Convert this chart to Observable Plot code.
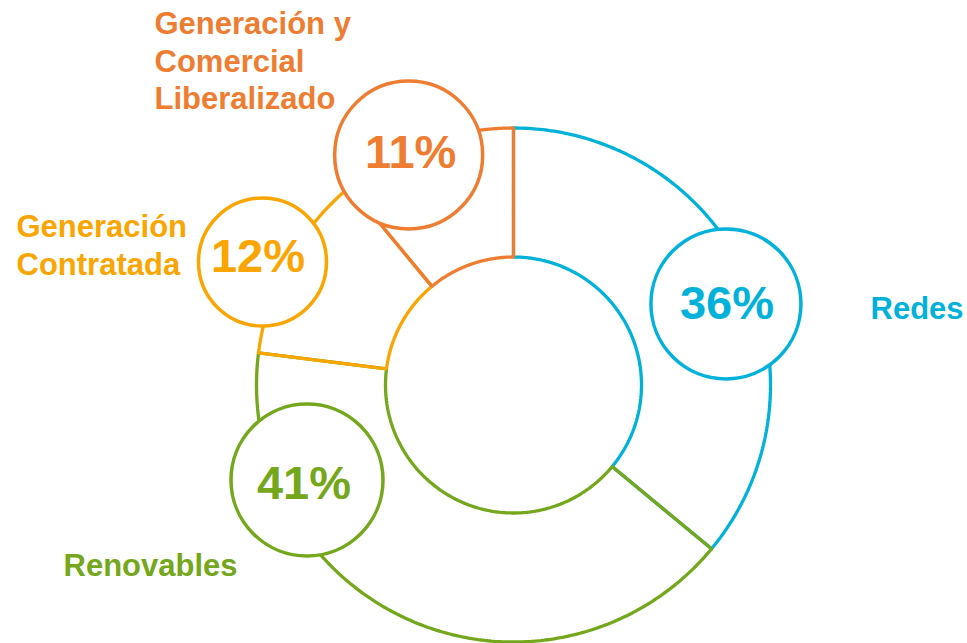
<!DOCTYPE html>
<html><head><meta charset="utf-8">
<script src="https://cdn.jsdelivr.net/npm/d3@7"></script>
<script src="https://cdn.jsdelivr.net/npm/@observablehq/plot@0.6"></script>
<style>html,body{margin:0;padding:0;background:#fff}</style>
</head><body><div id="chart"></div>
<script>
// ---- data ----
const segments = ["Redes", "Renovables", "Generación Contratada", "Generación y Comercial Liberalizado"];
const shares = [36, 41, 12, 11];
const shareLabels = ["36%", "41%", "12%", "11%"];
const nameLabels = ["Redes", "Renovables", "Generación\nContratada", "Generación y\nComercial\nLiberalizado"];

// ---- layout / style ----
const W = 967, H = 643;
const colors = ["#00B2DA", "#74A71C", "#FAA500", "#EE7D32"];
const cx = 513, cy = 384.5, rInner = 128, rOuter = 257;
// bubbles: polar position (deg clockwise from top, distance from centre), radius, text nudge
const bubbleLayout = [
  {a: 69.1, d: 227.4, r: 75, dx: 1, dy: 0},
  {a: 245.3, d: 227.3, r: 76, dx: -3, dy: 3.5},
  {a: 296.1, d: 279.5, r: 64, dx: -4.5, dy: -5.5},
  {a: 335.5, d: 252.8, r: 74, dx: 2, dy: -2.5}
];
// category name labels (text start x, top/middle y, anchor)
const nameLayout = [
  {x: 870, y: 306, anchor: "middle"},
  {x: 63, y: 563, anchor: "middle"},
  {x: 16, y: 210, anchor: "top"},
  {x: 154, y: 7, anchor: "top"}
];

const polar = (a, d) => [cx + d * Math.sin(a * Math.PI / 180), cy - d * Math.cos(a * Math.PI / 180)];

// build arc outlines from shares
const total = d3.sum(shares);
let acc = 0;
const segRows = shares.map((v, i) => {
  const a0 = acc / total * 360; acc += v; const a1 = acc / total * 360;
  const n = 200, pts = [];
  for (let k = 0; k <= n; k++) { const a = a0 + (a1 - a0) * k / n; const [x, y] = polar(a, rOuter); pts.push({x, y}); }
  for (let k = n; k >= 0; k--) { const a = a0 + (a1 - a0) * k / n; const [x, y] = polar(a, rInner); pts.push({x, y}); }
  pts.push(pts[0]);
  return pts;
});

const bubbles = shares.map((v, i) => {
  const L = bubbleLayout[i]; const [x, y] = polar(L.a, L.d);
  return {x, y, r: L.r, color: colors[i], label: shareLabels[i], tx: x + L.dx, ty: y + L.dy};
});
const names = nameLabels.map((t, i) => ({text: t, x: nameLayout[i].x, y: nameLayout[i].y, anchor: nameLayout[i].anchor, color: colors[i]}));

const font = "'Liberation Sans', Arial, sans-serif";
const plot = Plot.plot({
  width: W, height: H, margin: 0,
  x: {domain: [0, W], range: [0, W], axis: null},
  y: {domain: [0, H], range: [0, H], axis: null},
  r: {type: "identity"},
  color: {type: "identity"},
  style: {background: "white"},
  marks: [
    ...segRows.map((rows, i) => Plot.line(rows, {x: "x", y: "y", stroke: colors[i], strokeWidth: 3.3, strokeLinejoin: "miter", curve: "linear"})),
    Plot.dot(bubbles, {x: "x", y: "y", r: "r", fill: "white", stroke: "color", strokeWidth: 3.5}),
    Plot.text(bubbles, {x: "tx", y: "ty", text: "label", fill: "color", fontSize: 47, fontWeight: "bold", fontFamily: font, textAnchor: "middle", lineAnchor: "middle"}),
    ...["middle", "top"].map(an => Plot.text(names.filter(d => d.anchor === an), {x: "x", y: "y", text: "text", fill: "color", fontSize: 31, fontWeight: "bold", fontFamily: font, textAnchor: "start", lineAnchor: an, lineHeight: 1.21}))
  ]
});
document.getElementById("chart").appendChild(plot);
</script>
</body></html>
